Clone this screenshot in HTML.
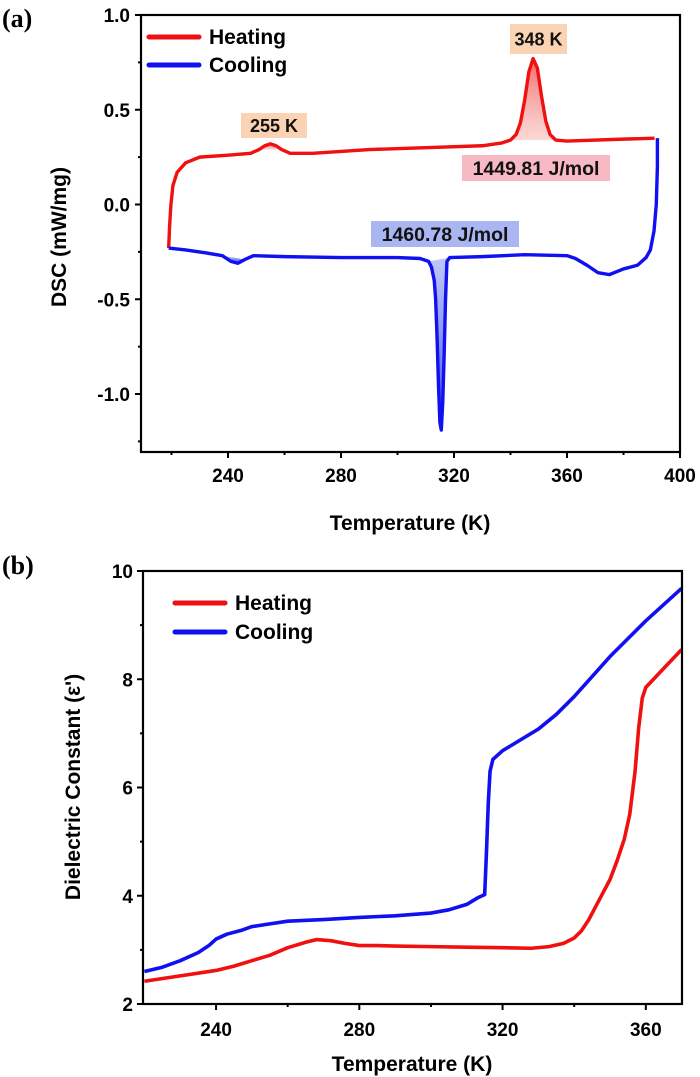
<!DOCTYPE html>
<html><head><meta charset="utf-8"><style>
html,body{margin:0;padding:0;background:#fff;}
svg{display:block;font-family:"Liberation Sans",Arial,sans-serif;}
</style></head><body>
<svg id="fig" width="700" height="1077" viewBox="0 0 700 1077">
<defs>
<linearGradient id="gRed" x1="0" y1="0" x2="0" y2="1"><stop offset="0" stop-color="#f05050" stop-opacity="0.85"/><stop offset="1" stop-color="#f8b0b0" stop-opacity="0.5"/></linearGradient>
<linearGradient id="gBlue" x1="0" y1="0" x2="0" y2="1"><stop offset="0" stop-color="#8090f0" stop-opacity="0.5"/><stop offset="1" stop-color="#2030e0" stop-opacity="0.9"/></linearGradient>
</defs>
<text x="2" y="27" font-family="Liberation Serif" font-weight="bold" font-size="26">(a)</text>
<text x="2" y="574" font-family="Liberation Serif" font-weight="bold" font-size="26">(b)</text>
<g id="pa"></g>
<g id="pb"></g>
</svg>
<script>
// Panel (a) DSC data
const aXTicks = [240, 280, 320, 360, 400];
const aYTicks = [1.0, 0.5, 0.0, -0.5, -1.0];
const aYTickLabels = ['1.0', '0.5', '0.0', '-0.5', '-1.0'];
const aHeatT = [219,219.3,219.8,220.5,222,225,230,240,248,251,253,255,257,259,262,270,290,310,330,337,340,342,343.5,345,346.5,348,349.5,351,352.5,354,356,360,380,391];
const aHeatV = [-0.23,-0.12,0.0,0.1,0.17,0.22,0.25,0.26,0.27,0.29,0.31,0.32,0.31,0.29,0.27,0.27,0.29,0.3,0.31,0.325,0.34,0.37,0.43,0.55,0.7,0.77,0.72,0.57,0.44,0.37,0.34,0.335,0.345,0.35];
const aCoolT = [392,392,391.6,390.8,389.5,388,385,380,375,371,367,363,360,345,330,318.5,317.5,317,316.5,316,315.5,315,314.5,314,313.5,313,312,311,308,300,280,260,249,246,243.5,241,238,232,225,219];
const aCoolV = [0.35,0.2,0.0,-0.14,-0.24,-0.28,-0.32,-0.34,-0.37,-0.36,-0.32,-0.285,-0.27,-0.265,-0.275,-0.28,-0.3,-0.5,-0.8,-1.05,-1.19,-1.15,-0.95,-0.7,-0.5,-0.4,-0.33,-0.3,-0.285,-0.28,-0.28,-0.275,-0.27,-0.29,-0.31,-0.3,-0.27,-0.255,-0.24,-0.23];
// Panel (b) dielectric data
const bXTicks = [240, 280, 320, 360];
const bYTicks = [2, 4, 6, 8, 10];
const bHeatT = [220,230,240,245,250,255,260,265,268,272,276,280,285,290,300,310,320,328,333,337,340,342,344,346,348,350,352,354,355.5,357,358,359,360,365,370];
const bHeatV = [2.42,2.52,2.62,2.7,2.8,2.9,3.04,3.14,3.19,3.17,3.12,3.08,3.08,3.07,3.06,3.05,3.04,3.03,3.06,3.12,3.22,3.35,3.55,3.8,4.05,4.3,4.65,5.05,5.5,6.3,7.1,7.65,7.85,8.2,8.55];
const bCoolT = [220,225,230,235,238,240,243,247,250,255,260,270,280,290,300,305,310,313,315,315.5,316,316.5,317.3,320,325,330,335,340,345,350,355,360,365,370];
const bCoolV = [2.6,2.68,2.8,2.95,3.08,3.2,3.29,3.36,3.43,3.48,3.53,3.56,3.6,3.63,3.68,3.74,3.84,3.96,4.02,4.8,5.7,6.3,6.52,6.68,6.88,7.08,7.35,7.68,8.05,8.42,8.75,9.08,9.38,9.68];

const NS='http://www.w3.org/2000/svg';
function mk(tag, attrs, parent){const e=document.createElementNS(NS,tag);for(const k in attrs)e.setAttribute(k,attrs[k]);parent.appendChild(e);return e;}
function path(xs,ys,sx,sy){return xs.map((t,i)=>(i?'L':'M')+sx(t).toFixed(2)+','+sy(ys[i]).toFixed(2)).join(' ');}
const TF=19, TITLEF=21;

// ---------- Panel A ----------
const pa=document.getElementById('pa');
const aL=141,aR=680,aT=15,aB=452, aX0=209.2,aX1=400, aY0=-1.306,aY1=1.0;
const axs=t=>aL+(t-aX0)/(aX1-aX0)*(aR-aL);
const ays=v=>aB-(v-aY0)/(aY1-aY0)*(aB-aT);
function fillPeak(ts,vs,lo,hi,fill,name){
  const idx=ts.map((t,i)=>i).filter(i=>ts[i]>=lo&&ts[i]<=hi);
  if(!idx.length)return;
  const pts=idx.map(i=>[axs(ts[i]),ays(vs[i])]);
  const d='M'+pts.map(p=>p[0].toFixed(2)+','+p[1].toFixed(2)).join(' L')+' Z';
  const e=mk('path',{d:d,fill:fill,stroke:'none'},pa);
  
  
}
fillPeak(aHeatT,aHeatV,338,357,'url(#gRed)','heating-peak-348-fill');
fillPeak(aHeatT,aHeatV,250,261,'url(#gRed)','heating-peak-255-fill');
fillPeak(aCoolT,aCoolV,310,318.5,'url(#gBlue)','cooling-peak-315-fill');
fillPeak(aCoolT,aCoolV,237,248,'url(#gBlue)','cooling-peak-243-fill');
function box(x,y,w,h,c,txt,name,fs){
  const g=mk('g',{},pa);
  
  
  mk('rect',{x:x,y:y,width:w,height:h,fill:c},g);
  const t=mk('text',{x:x+w/2,y:y+h/2+fs*0.36,'text-anchor':'middle','font-size':fs,'font-weight':'bold',fill:'#111'},g);
  t.textContent=txt;
}
box(241,113,66,25,'#f9d3b3','255 K','label-255k',18);
box(510,24,57,30,'#f9d3b3','348 K','label-348k',18);
box(462,155,148,26,'#f7b9c3','1449.81 J/mol','label-heating-enthalpy',19.5);
box(371,221,148,26,'#aab6f2','1460.78 J/mol','label-cooling-enthalpy',19.5);
let e=mk('path',{d:path(aHeatT,aHeatV,axs,ays),fill:'none',stroke:'#f01010','stroke-width':3.4,'stroke-linejoin':'round'},pa);


e=mk('path',{d:path(aCoolT,aCoolV,axs,ays),fill:'none',stroke:'#1010f0','stroke-width':3.4,'stroke-linejoin':'round'},pa);


e=mk('rect',{x:aL,y:aT,width:aR-aL,height:aB-aT,fill:'none',stroke:'#000','stroke-width':2.2},pa);


aXTicks.forEach(t=>{const x=axs(t);mk('line',{x1:x,y1:aB,x2:x,y2:aB+6,stroke:'#000','stroke-width':2},pa);
  const tx=mk('text',{x:x,y:aB+30,'text-anchor':'middle','font-size':TF,'font-weight':'bold'},pa);tx.textContent=t;
  
  });
[220,260,300,340,380].forEach(t=>mk('line',{x1:axs(t),y1:aB,x2:axs(t),y2:aB+3,stroke:'#000','stroke-width':2},pa));
aYTicks.forEach((v,i)=>{const y=ays(v);mk('line',{x1:aL-6,y1:y,x2:aL,y2:y,stroke:'#000','stroke-width':2},pa);
  const tx=mk('text',{x:aL-11,y:y+7,'text-anchor':'end','font-size':TF,'font-weight':'bold'},pa);tx.textContent=aYTickLabels[i];
  
  });
[0.75,0.25,-0.25,-0.75,-1.25].forEach(v=>mk('line',{x1:aL-3,y1:ays(v),x2:aL,y2:ays(v),stroke:'#000','stroke-width':2},pa));
e=mk('text',{x:410,y:530,'text-anchor':'middle','font-size':TITLEF,'font-weight':'bold'},pa);e.textContent='Temperature (K)';


e=mk('text',{x:0,y:0,transform:'translate(66,237) rotate(-90)','text-anchor':'middle','font-size':TITLEF,'font-weight':'bold'},pa);e.textContent='DSC (mW/mg)';


function legend(g,x,y,c,txt,name,fs){const lg=mk('g',{},g);
  
  
  mk('line',{x1:x,y1:y,x2:x+50,y2:y,stroke:c,'stroke-width':5,'stroke-linecap':'round'},lg);
  const t=mk('text',{x:x+60,y:y+7,'font-size':fs,'font-weight':'bold'},lg);t.textContent=txt;}
legend(pa,149,37,'#f01010','Heating','legend-heating',21);
legend(pa,149,65,'#1010f0','Cooling','legend-cooling',21);

// ---------- Panel B ----------
const pb=document.getElementById('pb');
const bL=143,bR=682,bT=571,bB=1004,bX0=219.6,bX1=370.1,bY0=2,bY1=10;
const bxs=t=>bL+(t-bX0)/(bX1-bX0)*(bR-bL);
const bys=v=>bB-(v-bY0)/(bY1-bY0)*(bB-bT);
e=mk('path',{d:path(bHeatT,bHeatV,bxs,bys),fill:'none',stroke:'#f01010','stroke-width':3.6,'stroke-linejoin':'round'},pb);


e=mk('path',{d:path(bCoolT,bCoolV,bxs,bys),fill:'none',stroke:'#1010f0','stroke-width':3.6,'stroke-linejoin':'round'},pb);


e=mk('rect',{x:bL,y:bT,width:bR-bL,height:bB-bT,fill:'none',stroke:'#000','stroke-width':2.2},pb);


bXTicks.forEach(t=>{const x=bxs(t);mk('line',{x1:x,y1:bB,x2:x,y2:bB+6,stroke:'#000','stroke-width':2},pb);
  const tx=mk('text',{x:x,y:bB+32,'text-anchor':'middle','font-size':TF,'font-weight':'bold'},pb);tx.textContent=t;
  
  });
[260,300,340].forEach(t=>mk('line',{x1:bxs(t),y1:bB,x2:bxs(t),y2:bB+3,stroke:'#000','stroke-width':2},pb));
bYTicks.forEach(v=>{const y=bys(v);mk('line',{x1:bL-6,y1:y,x2:bL,y2:y,stroke:'#000','stroke-width':2},pb);
  const tx=mk('text',{x:bL-10,y:y+7,'text-anchor':'end','font-size':TF,'font-weight':'bold'},pb);tx.textContent=v;
  
  });
[3,5,7,9].forEach(v=>mk('line',{x1:bL-3,y1:bys(v),x2:bL,y2:bys(v),stroke:'#000','stroke-width':2},pb));
e=mk('text',{x:412,y:1071,'text-anchor':'middle','font-size':TITLEF,'font-weight':'bold'},pb);e.textContent='Temperature (K)';


e=mk('text',{x:0,y:0,transform:'translate(80,787) rotate(-90)','text-anchor':'middle','font-size':TITLEF,'font-weight':'bold'},pb);e.textContent="Dielectric Constant (ε')";


legend(pb,175,603,'#f01010','Heating','legend-heating',21);
legend(pb,175,632,'#1010f0','Cooling','legend-cooling',21);
</script>
</body></html>
